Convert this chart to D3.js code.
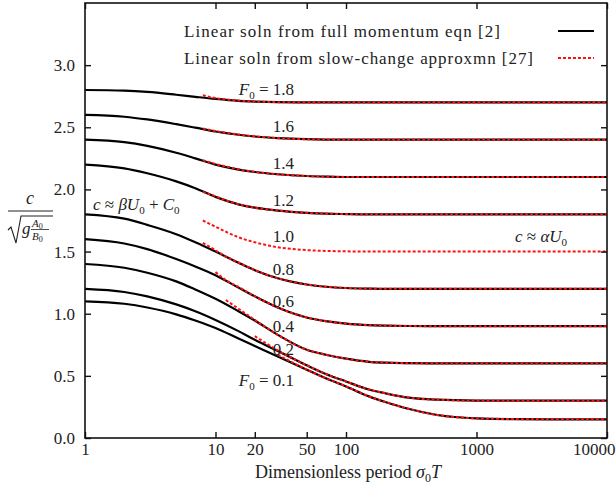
<!DOCTYPE html>
<html><head><meta charset="utf-8">
<script src="https://cdn.jsdelivr.net/npm/d3@7/dist/d3.min.js"></script>
<style>
html,body{margin:0;padding:0;background:#fff;}
svg text{font-family:"Liberation Serif","Times New Roman",serif;fill:#222;}
</style></head>
<body><svg id="c" width="616" height="484"></svg>
<script>
// ---- data ----
const periods = [1,2,3,5,7,10,15,20,30,50,70,100,150,200,300,500,1000,2000,5000,10000];
const full_18 = [2.80,2.795,2.785,2.762,2.745,2.728,2.713,2.707,2.702,2.70,2.70,2.70,2.70,2.70,2.70,2.70,2.70,2.70,2.70,2.70];
const full_16 = [2.60,2.585,2.563,2.525,2.497,2.466,2.44,2.426,2.413,2.404,2.401,2.40,2.40,2.40,2.40,2.40,2.40,2.40,2.40,2.40];
const full_14 = [2.40,2.38,2.35,2.295,2.25,2.20,2.16,2.14,2.122,2.108,2.103,2.10,2.10,2.10,2.10,2.10,2.10,2.10,2.10,2.10];
const full_12 = [2.20,2.17,2.13,2.065,2.01,1.94,1.88,1.853,1.83,1.812,1.805,1.802,1.80,1.80,1.80,1.80,1.80,1.80,1.80,1.80];
const full_08 = [1.80,1.765,1.715,1.64,1.575,1.50,1.41,1.35,1.285,1.235,1.217,1.207,1.202,1.20,1.20,1.20,1.20,1.20,1.20,1.20];
const full_06 = [1.60,1.565,1.52,1.44,1.38,1.31,1.21,1.14,1.05,0.97,0.94,0.92,0.908,0.904,0.901,0.90,0.90,0.90,0.90,0.90];
const full_04 = [1.40,1.37,1.33,1.26,1.195,1.12,1.02,0.945,0.83,0.71,0.67,0.638,0.613,0.606,0.602,0.60,0.60,0.60,0.60,0.60];
const full_02 = [1.20,1.175,1.14,1.075,1.02,0.95,0.86,0.79,0.70,0.585,0.515,0.455,0.39,0.36,0.325,0.308,0.301,0.30,0.30,0.30];
const full_01 = [1.10,1.08,1.05,0.995,0.945,0.885,0.80,0.74,0.655,0.55,0.48,0.415,0.335,0.29,0.235,0.185,0.158,0.152,0.15,0.15];

const slowPeriods = [8,10,12,15,20,30,50,70,100,150,200,300,500,1000,2000,5000,10000];
const slow_18 = [2.758,2.735,2.724,2.715,2.707,2.702,2.70,2.70,2.70,2.70,2.70,2.70,2.70,2.70,2.70,2.70,2.70];
const slow_16 = [2.49,2.47,2.456,2.442,2.427,2.413,2.404,2.401,2.40,2.40,2.40,2.40,2.40,2.40,2.40,2.40,2.40];
const slow_14 = [2.235,2.205,2.185,2.162,2.141,2.122,2.108,2.103,2.10,2.10,2.10,2.10,2.10,2.10,2.10,2.10,2.10];
const slow_12 = [1.98,1.945,1.912,1.882,1.853,1.83,1.812,1.805,1.802,1.80,1.80,1.80,1.80,1.80,1.80,1.80,1.80];
const slow_10 = [1.75,1.70,1.66,1.615,1.575,1.535,1.512,1.505,1.502,1.50,1.50,1.50,1.50,1.50,1.50,1.50,1.50];
const slow_08 = [1.57,1.51,1.46,1.412,1.35,1.285,1.235,1.217,1.207,1.202,1.20,1.20,1.20,1.20,1.20,1.20,1.20];
const slow_06 = [null,1.335,1.27,1.215,1.14,1.05,0.97,0.94,0.92,0.908,0.904,0.901,0.90,0.90,0.90,0.90,0.90];
const slow_04 = [null,null,1.11,1.04,0.95,0.83,0.71,0.67,0.638,0.613,0.606,0.602,0.60,0.60,0.60,0.60,0.60];
const slow_02 = [null,null,null,null,0.82,0.705,0.585,0.515,0.455,0.39,0.36,0.325,0.308,0.301,0.30,0.30,0.30];
const slow_01 = [null,null,null,null,null,0.67,0.55,0.48,0.415,0.335,0.29,0.235,0.185,0.158,0.152,0.15,0.15];

const curveLabels = ["1.8","1.6","1.4","1.2","1.0","0.8","0.6","0.4","0.2","0.1"];
const xTickValues = [1,10,20,50,100,1000,10000];
const yTickValues = [0,0.5,1.0,1.5,2.0,2.5,3.0];
const legendLabels = ["Linear soln from full momentum eqn [2]","Linear soln from slow-change approxmn [27]"];

// ---- layout ----
const FONT = "'Liberation Serif','Times New Roman',serif";
const svg = d3.select("#c");
const x = d3.scaleLog().domain([1,10000]).range([85,607]);
const y = d3.scaleLinear().domain([0,3.5]).range([438,3]);

const fullSeries = [full_18,full_16,full_14,full_12,full_08,full_06,full_04,full_02,full_01];
const slowSeries = [slow_18,slow_16,slow_14,slow_12,slow_10,slow_08,slow_06,slow_04,slow_02,slow_01];

const line = () => d3.line()
  .x(d => x(d[0])).y(d => y(d[1]))
  .curve(d3.curveMonotoneX);

const plot = svg.append("g");
fullSeries.forEach(s => {
  plot.append("path").datum(periods.map((p,i)=>[p,s[i]]))
    .attr("d", line()).attr("fill","none").attr("stroke","#000").attr("stroke-width",2.2);
});
slowSeries.forEach(s => {
  plot.append("path").datum(slowPeriods.map((p,i)=>[p,s[i]]).filter(d=>d[1]!==null))
    .attr("d", line()).attr("fill","none").attr("stroke","#ff1010").attr("stroke-width",2)
    .attr("stroke-dasharray","3,2");
});

// frame
svg.append("rect").attr("x",85).attr("y",3).attr("width",522).attr("height",435)
  .attr("fill","none").attr("stroke","#111").attr("stroke-width",1.6);

// axes with inward ticks
const axB = d3.axisBottom(x).tickValues(xTickValues).tickSize(-6).tickPadding(5).tickFormat(d3.format("d"));
const gB = svg.append("g").attr("transform","translate(0,438)").call(axB);
const axT = d3.axisTop(x).tickValues(xTickValues).tickSize(-6).tickFormat("");
svg.append("g").attr("transform","translate(0,3)").call(axT);
const axL = d3.axisLeft(y).tickValues(yTickValues).tickSize(-6).tickPadding(10).tickFormat(d3.format(".1f"));
svg.append("g").attr("transform","translate(85,0)").call(axL);
const axR = d3.axisRight(y).tickValues(yTickValues).tickSize(-6).tickFormat("");
svg.append("g").attr("transform","translate(607,0)").call(axR);
svg.selectAll(".domain").remove();
svg.selectAll("g").attr("font-family", FONT);
svg.selectAll(".tick line").attr("stroke","#111").attr("stroke-width",1.4);
svg.selectAll(".tick text").attr("font-size",17).attr("fill","#222").style("font-family",FONT);
gB.selectAll(".tick text").filter(d=>d===10000).attr("text-anchor","end").attr("dx",8);

// x title
const xt = svg.append("text").attr("x",348).attr("y",478).attr("text-anchor","middle").attr("font-size",18);
xt.append("tspan").text("Dimensionless period ");
xt.append("tspan").attr("font-style","italic").text("σ");
xt.append("tspan").attr("font-size",12).attr("dy",4).text("0");
xt.append("tspan").attr("font-style","italic").attr("dy",-4).text("T");

// y title (fraction)
svg.append("text").attr("x",30).attr("y",204).attr("text-anchor","middle").attr("font-size",18).attr("font-style","italic").text("c");
svg.append("line").attr("x1",8).attr("x2",53).attr("y1",211).attr("y2",211).attr("stroke","#222").attr("stroke-width",1.2);
svg.append("path").attr("d","M8,230 L11,227 L16,243 L21,216 L53,216").attr("fill","none").attr("stroke","#222").attr("stroke-width",1.1);
svg.append("text").attr("x",22).attr("y",234).attr("font-size",17).attr("font-style","italic").text("g");
const fa = svg.append("text").attr("x",32).attr("y",227).attr("font-size",11);
fa.append("tspan").attr("font-style","italic").text("A");
fa.append("tspan").attr("font-size",8).attr("dy",2).text("0");
svg.append("line").attr("x1",31).attr("x2",49).attr("y1",229.5).attr("y2",229.5).attr("stroke","#222").attr("stroke-width",0.8);
const fb = svg.append("text").attr("x",32).attr("y",240).attr("font-size",11);
fb.append("tspan").attr("font-style","italic").text("B");
fb.append("tspan").attr("font-size",8).attr("dy",2).text("0");

// curve labels
const labelY = [89,126,163,200,236,269,301,326,349,380];
curveLabels.forEach((lab,i) => {
  const t = svg.append("text").attr("x",294).attr("y",labelY[i]+6).attr("text-anchor","end").attr("font-size",17);
  if (i===0 || i===curveLabels.length-1) {
    t.append("tspan").attr("font-style","italic").text("F");
    t.append("tspan").attr("font-size",11).attr("dy",4).text("0");
    t.append("tspan").attr("dy",-4).text(" = " + lab);
  } else t.text(lab);
});

// annotations
const a1 = svg.append("text").attr("x",93).attr("y",210).attr("font-size",17);
a1.append("tspan").attr("font-style","italic").text("c");
a1.append("tspan").text(" ≈ ");
a1.append("tspan").attr("font-style","italic").text("βU");
a1.append("tspan").attr("font-size",11).attr("dy",4).text("0");
a1.append("tspan").attr("dy",-4).text(" + ");
a1.append("tspan").attr("font-style","italic").text("C");
a1.append("tspan").attr("font-size",11).attr("dy",4).text("0");
const a2 = svg.append("text").attr("x",515).attr("y",242).attr("font-size",17);
a2.append("tspan").attr("font-style","italic").text("c");
a2.append("tspan").text(" ≈ ");
a2.append("tspan").attr("font-style","italic").text("αU");
a2.append("tspan").attr("font-size",11).attr("dy",4).text("0");

// legend
const legY = [31,58];
const legW = [316,349];
legendLabels.forEach((t,i) => {
  svg.append("text").attr("x",184).attr("y",legY[i]+6).attr("font-size",17)
    .attr("textLength",legW[i]).attr("lengthAdjust","spacing").text(t);
});
svg.append("line").attr("x1",558).attr("x2",594).attr("y1",legY[0]).attr("y2",legY[0]).attr("stroke","#000").attr("stroke-width",2.2);
svg.append("line").attr("x1",558).attr("x2",594).attr("y1",legY[1]).attr("y2",legY[1]).attr("stroke","#ff1010").attr("stroke-width",2).attr("stroke-dasharray","3,2");
</script></body></html>
